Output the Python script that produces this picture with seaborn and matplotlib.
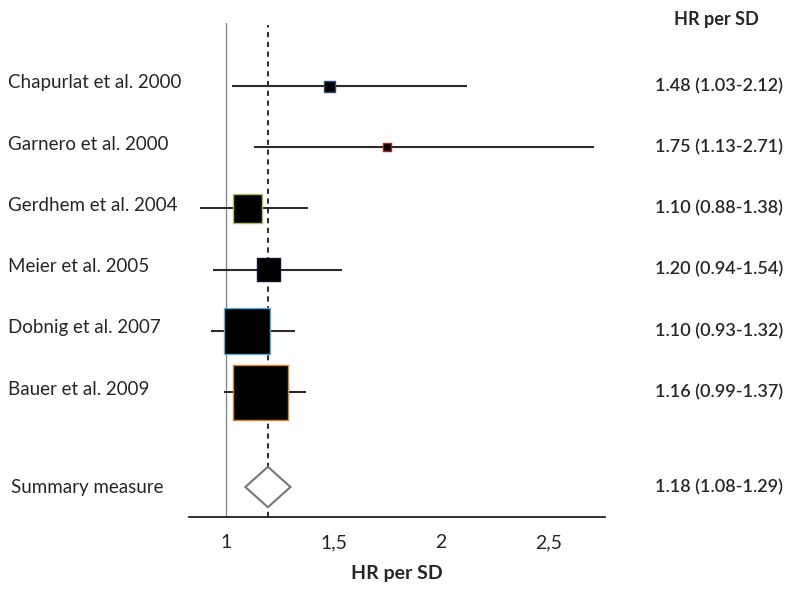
import numpy as np
import pandas as pd
import matplotlib
matplotlib.use("Agg")
import matplotlib.pyplot as plt
import seaborn as sns

studies = ["Chapurlat et al. 2000", "Garnero et al. 2000", "Gerdhem et al. 2004",
           "Meier et al. 2005", "Dobnig et al. 2007", "Bauer et al. 2009"]
hr = [1.48, 1.75, 1.10, 1.20, 1.10, 1.16]
ci_low = [1.03, 1.13, 0.88, 0.94, 0.93, 0.99]
ci_high = [2.12, 2.71, 1.38, 1.54, 1.32, 1.37]
hr_text = ["1.48 (1.03-2.12)", "1.75 (1.13-2.71)", "1.10 (0.88-1.38)",
           "1.20 (0.94-1.54)", "1.10 (0.93-1.32)", "1.16 (0.99-1.37)"]

summary_label = "Summary measure"
summary_hr = 1.195
summary_low = 1.09
summary_high = 1.30
summary_text = "1.18 (1.08-1.29)"

x_ticks = [1, 1.5, 2, 2.5]
x_ticklabels = ["1", "1,5", "2", "2,5"]

# styles
box_px = [11, 8, 29, 23, 46, 55]
box_edges = ["#2a4a7a", "#b02020", "#b8b860", "#101030", "#5ab0d8", "#e08030"]

sns.set_style("white")
plt.rcParams["font.family"] = ["Lato", "DejaVu Sans"]

df = pd.DataFrame({"study": studies, "hr": hr, "lo": ci_low, "hi": ci_high,
                   "row": np.arange(len(studies), dtype=float)})
summary_row = 6.55

fig = plt.figure(figsize=(8.09, 6.03), dpi=100)
ax = fig.add_axes([189 / 809, 1 - 517 / 603, 416 / 809, 494 / 603])

ax.axvline(1, color="#8a8a8a", lw=1.0, zorder=1)
ax.axvline(summary_hr, ymax=0.995, color="#333333", lw=1.5, ls=(0, (2.5, 2.2)), zorder=1)

ax.hlines(df["row"], df["lo"], df["hi"], color="#2b2b2b", lw=1.5, zorder=2)

pt = 72 / 100
sns.scatterplot(data=df, x="hr", y="row", marker="s", color="black",
                s=[(p * pt) ** 2 for p in box_px], edgecolor=box_edges,
                linewidth=1.0, legend=False, ax=ax, zorder=3)

half_h = 0.33
ax.fill([summary_low, summary_hr, summary_high, summary_hr],
        [summary_row, summary_row - half_h, summary_row, summary_row + half_h],
        facecolor="white", edgecolor="#777777", lw=1.5, zorder=3)

ax.set_xlim(0.828, 2.763)
ax.set_ylim(7.04, -1.03)
ax.set_xticks(x_ticks)
ax.set_xticklabels(x_ticklabels, fontsize=14)
ax.set_yticks([])
ax.set_xlabel("HR per SD", fontsize=14, fontweight="bold", labelpad=10)
ax.set_ylabel("")
for side in ["left", "right", "top"]:
    ax.spines[side].set_visible(False)
ax.spines["bottom"].set_color("#222222")
ax.spines["bottom"].set_linewidth(1.3)
ax.tick_params(axis="x", direction="inout", length=7, width=1.2, color="#222222", pad=9)

tr = ax.get_yaxis_transform()
x_left = (8 - 189) / 416
x_right = (655 - 189) / 416
for name, row, txt in zip(studies, df["row"], hr_text):
    ax.text(x_left, row - 0.05, name, transform=tr, ha="left", va="center",
            fontsize=13.5, clip_on=False)
    ax.text(x_right, row, txt, transform=tr, ha="left", va="center",
            fontsize=13, fontweight="semibold", clip_on=False)
ax.text((11 - 189) / 416, summary_row, summary_label, transform=tr, ha="left",
        va="center", fontsize=13.5, clip_on=False)
ax.text(x_right, summary_row, summary_text, transform=tr, ha="left",
        va="center", fontsize=13, fontweight="semibold", clip_on=False)

fig.text(716 / 809, 1 - 20 / 603, "HR per SD", ha="center", va="center",
         fontsize=13, fontweight="bold")

fig.savefig("out.png", dpi=100, facecolor="white")
